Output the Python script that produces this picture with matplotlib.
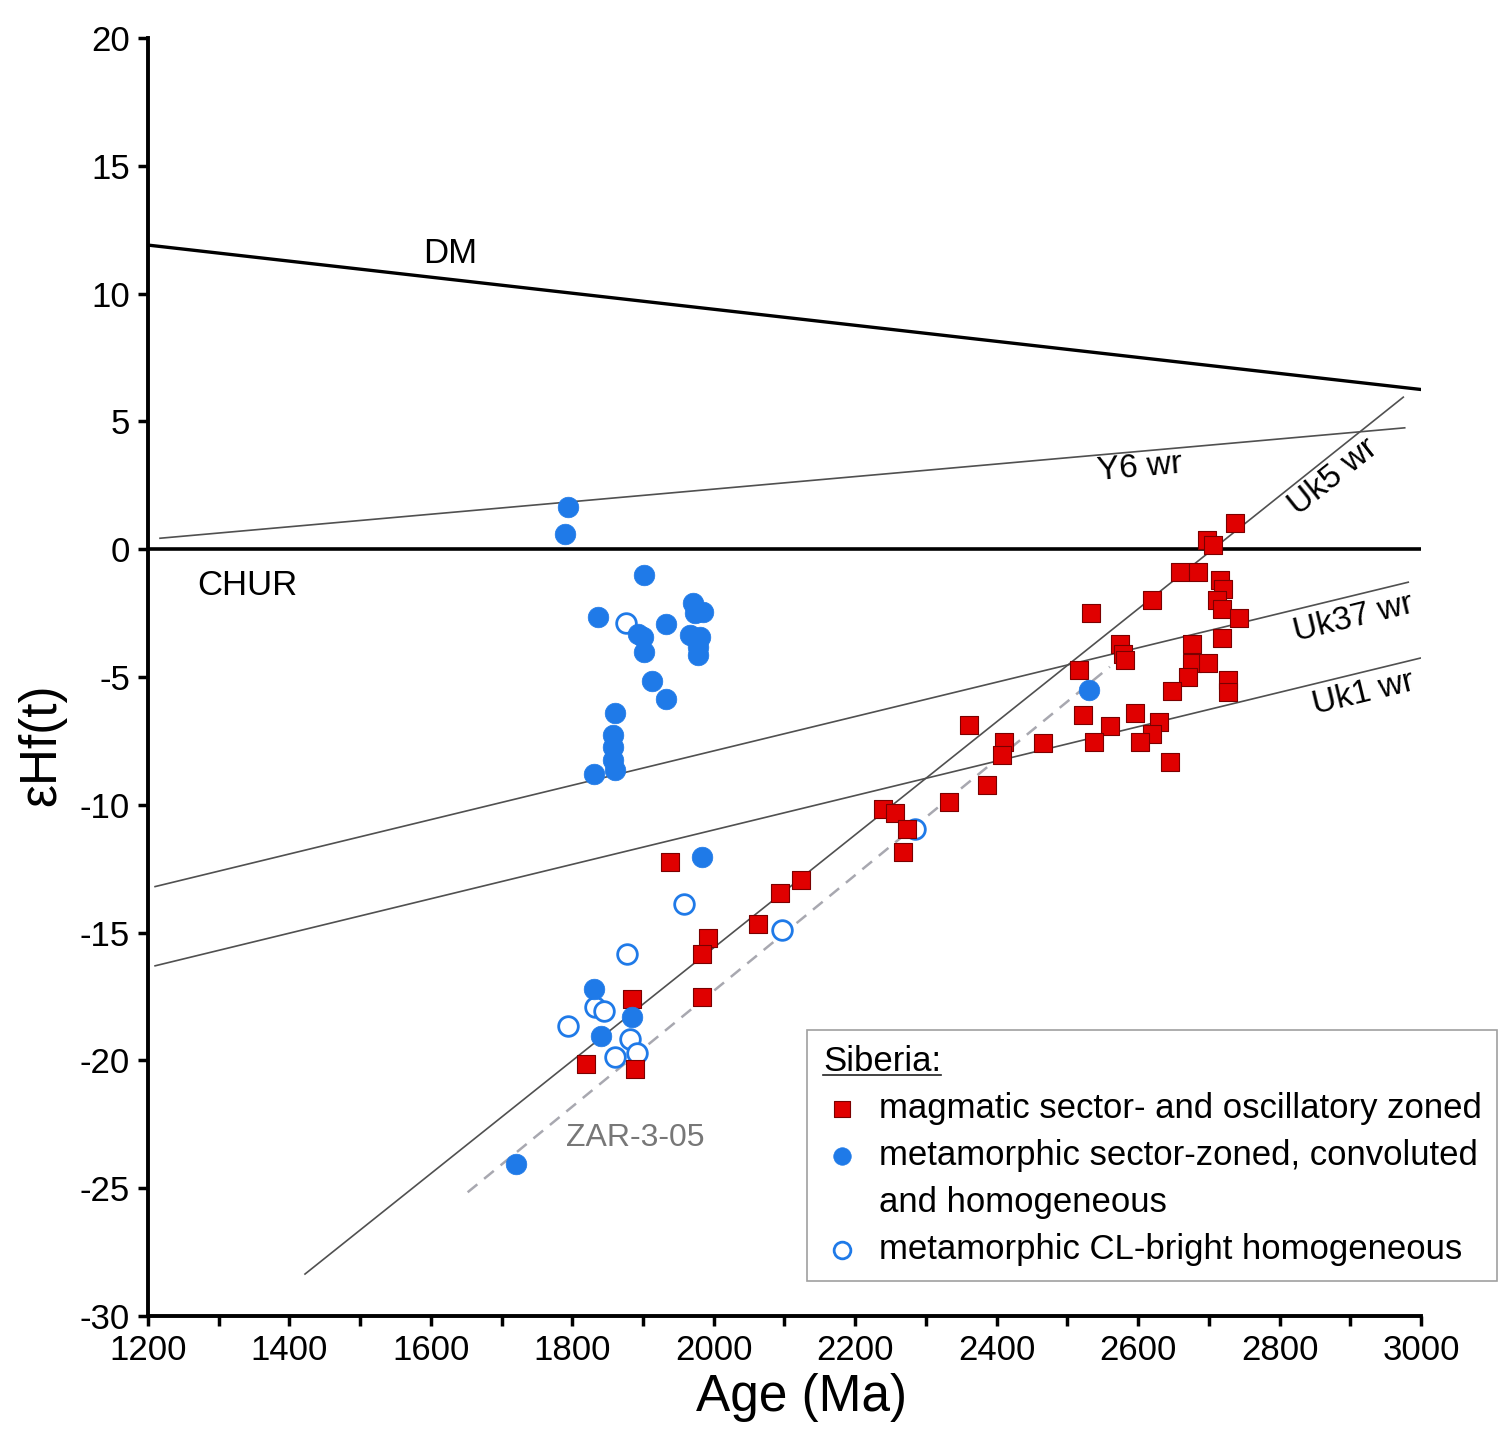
import matplotlib
matplotlib.use("Agg")
import matplotlib.pyplot as plt
from matplotlib.lines import Line2D

plt.rcParams['font.family'] = ['Liberation Sans', 'DejaVu Sans']
plt.rcParams['axes.unicode_minus'] = False

# ---------------- data ----------------
mag_age = [1938, 1884, 1819, 1889, 1992, 1983, 1983, 2063, 2094, 2123,
           2361, 2410, 2407, 2466, 2386, 2332, 2240, 2256, 2273, 2267,
           2737, 2697, 2706, 2659, 2685, 2716, 2720, 2711, 2718, 2742,
           2620, 2533, 2718, 2676, 2574, 2579, 2581, 2676, 2699, 2671,
           2727, 2727, 2517, 2648, 2522, 2596, 2560, 2629, 2619, 2602,
           2537, 2645]
mag_hf = [-12.23, -17.58, -20.16, -20.32, -15.23, -15.82, -17.51, -14.67, -13.47, -12.95,
          -6.89, -7.54, -8.06, -7.60, -9.23, -9.89, -10.15, -10.34, -10.93, -11.84,
          1.03, 0.38, 0.16, -0.89, -0.89, -1.21, -1.54, -2.00, -2.32, -2.71,
          -1.97, -2.49, -3.49, -3.69, -3.69, -4.08, -4.34, -4.47, -4.47, -5.00,
          -5.13, -5.58, -4.73, -5.54, -6.49, -6.40, -6.92, -6.76, -7.21, -7.54,
          -7.54, -8.32]

meta_age = [1794, 1790, 1901, 1837, 1893, 1900, 1901, 1932, 1912, 1932,
            1971, 1985, 1973, 1966, 1981, 1978, 1978, 1860, 1858, 1858,
            1858, 1860, 1830, 1983, 1830, 1840, 1885, 1721, 2530]
meta_hf = [1.65, 0.61, -0.99, -2.65, -3.30, -3.43, -4.02, -2.93, -5.15, -5.87,
           -2.12, -2.45, -2.50, -3.36, -3.43, -3.82, -4.15, -6.39, -7.28, -7.73,
           -8.25, -8.65, -8.78, -12.04, -17.19, -19.05, -18.32, -24.06, -5.49]

clb_age = [1876, 1958, 1877, 1832, 1845, 1794, 1881, 1860, 1892, 2096, 2285]
clb_hf = [-2.88, -13.89, -15.82, -17.90, -18.06, -18.66, -19.18, -19.86, -19.73, -14.88, -10.93]

# reference evolution lines: (age_start, age_end), (eHf_start, eHf_end)
dm_age, dm_hf = [1200, 3000], [11.9, 6.25]
chur_age, chur_hf = [1200, 3000], [0, 0]
y6_age, y6_hf = [1217, 2977], [0.43, 4.75]
uk5_age, uk5_hf = [1422, 2975], [-28.36, 5.95]
uk37_age, uk37_hf = [1210, 2982], [-13.2, -1.29]
uk1_age, uk1_hf = [1210, 2999], [-16.3, -4.26]
zar_age, zar_hf = [1652, 2560], [-25.16, -4.6]

legend_title = "Siberia:"
legend_labels = ["magmatic sector- and oscillatory zoned",
                 "metamorphic sector-zoned, convoluted",
                 "and homogeneous",
                 "metamorphic CL-bright homogeneous"]

# ---------------- figure ----------------
fig = plt.figure(figsize=(15.04, 14.42), dpi=100)
ax = fig.add_axes([0.0984, 0.0874, 0.8464, 0.8862])

ax.plot(dm_age, dm_hf, color='black', lw=2.4, zorder=2)
ax.plot(chur_age, chur_hf, color='black', lw=2.6, zorder=2)
thin = dict(color='#505050', lw=1.2, zorder=2)
ax.plot(y6_age, y6_hf, **thin)
ax.plot(uk5_age, uk5_hf, **thin)
ax.plot(uk37_age, uk37_hf, **thin)
ax.plot(uk1_age, uk1_hf, **thin)
ax.plot(zar_age, zar_hf, color='#a8a8b0', lw=1.8, ls=(0, (5, 3.5)), zorder=2)

blue = '#1f7ae8'
red = '#e00000'
h_open = ax.scatter(clb_age, clb_hf, s=200, facecolor='white', edgecolor=blue,
                    linewidths=2.0, zorder=3)
h_red = ax.scatter(mag_age, mag_hf, s=185, marker='s', facecolor=red,
                   edgecolor='#7a0000', linewidths=0.8, zorder=4)
h_blue = ax.scatter(meta_age, meta_hf, s=220, facecolor=blue, edgecolor=blue,
                    linewidths=0.5, zorder=5)
h_none = Line2D([], [], linestyle='none', marker='none')

# annotations
ax.text(1628, 11.58, 'DM', fontsize=25, ha='center', va='center')
ax.text(1340, -1.41, 'CHUR', fontsize=25, ha='center', va='center')
ax.text(2603, 3.17, 'Y6 wr', fontsize=24, ha='center', va='center', rotation=5)
ax.text(2876, 2.82, 'Uk5 wr', fontsize=24, ha='center', va='center', rotation=38.5)
ax.text(2904, -2.7, 'Uk37 wr', fontsize=24, ha='center', va='center', rotation=13.7)
ax.text(2918, -5.63, 'Uk1 wr', fontsize=24, ha='center', va='center', rotation=13.6)
ax.text(1889, -23.04, 'ZAR-3-05', fontsize=23, ha='center', va='center', color='#777777')

# axes styling
ax.set_xlim(1200, 3000)
ax.set_ylim(-30, 20)
for s in ['top', 'right']:
    ax.spines[s].set_visible(False)
for s in ['left', 'bottom']:
    ax.spines[s].set_linewidth(2.8)
ax.set_xticks(range(1200, 3001, 200))
ax.set_xticks(range(1300, 3000, 200), minor=True)
ax.set_yticks(range(-30, 21, 5))
ax.tick_params(axis='both', which='both', direction='out', length=7, width=2.5,
               labelsize=25, pad=6)
ax.set_xlabel('Age (Ma)', fontsize=37, labelpad=4)
ax.xaxis.set_label_coords(0.513, -0.045)
ax.set_ylabel('εHf(t)', fontsize=37)
ax.yaxis.set_label_coords(-0.064, 0.447)

leg = ax.legend([h_red, h_blue, h_none, h_open], legend_labels, title=legend_title,
                loc='lower left', bbox_to_anchor=(0.518, 0.027), borderaxespad=0,
                fontsize=25, title_fontsize=25, alignment='left',
                frameon=True, fancybox=False, edgecolor='#888888',
                handletextpad=0.5, labelspacing=0.4, borderpad=0.45,
                handlelength=1.1, markerscale=0.85)
leg.get_frame().set_linewidth(1.2)

fig.canvas.draw()
tt = leg.get_title()
bb = tt.get_window_extent()
inv = fig.transFigure.inverted()
(x0, y0), (x1, y1) = inv.transform([[bb.x0, bb.y0], [bb.x1, bb.y0]])
fig.add_artist(Line2D([x0, x1], [y0 + 0.002, y0 + 0.002], color='#222222', lw=1.2,
                      transform=fig.transFigure))

fig.savefig('out.png', dpi=100)
